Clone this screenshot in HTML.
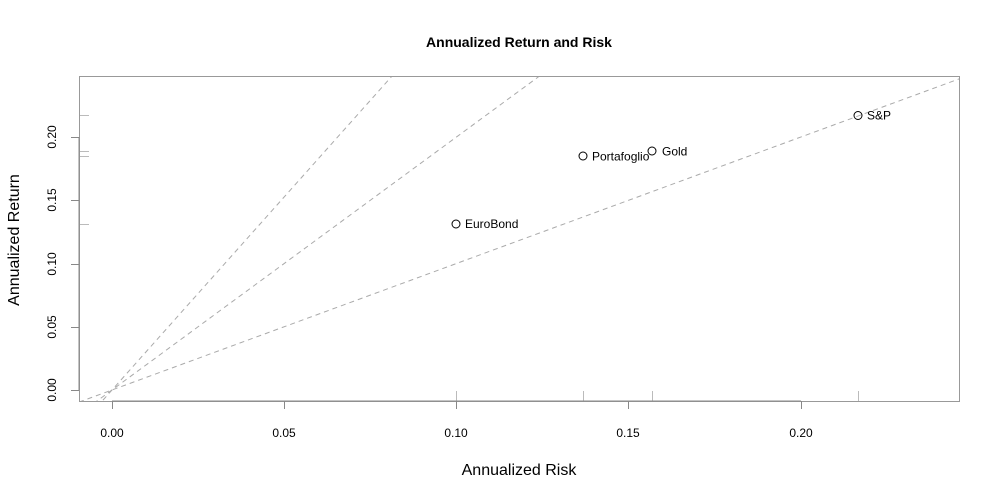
<!DOCTYPE html>
<html><head><style>body{margin:0;background:#fff}svg{display:block}text{font-family:"Liberation Sans",Arial,sans-serif}</style></head><body>
<svg width="1000" height="500" xmlns="http://www.w3.org/2000/svg">
<defs><clipPath id="c"><rect x="79" y="76" width="880" height="325"/></clipPath></defs>
<text x="519" y="47" font-size="14" font-weight="bold" text-anchor="middle">Annualized Return and Risk</text>
<g clip-path="url(#c)" stroke="#aaa" stroke-width="1" stroke-dasharray="5,4" fill="none">
<line x1="79" y1="402.1" x2="1000" y2="63.9"/>
<line x1="79" y1="414.2" x2="600" y2="31.6"/>
<line x1="79" y1="427" x2="500" y2="-45"/>
</g>
<g stroke="#bbb" stroke-width="1">
<line x1="79" y1="115.5" x2="89" y2="115.5"/><line x1="79" y1="151.5" x2="89" y2="151.5"/><line x1="79" y1="156.5" x2="89" y2="156.5"/><line x1="79" y1="224.5" x2="89" y2="224.5"/>
<line x1="456.5" y1="391" x2="456.5" y2="401"/><line x1="583.5" y1="391" x2="583.5" y2="401"/><line x1="652.5" y1="391" x2="652.5" y2="401"/><line x1="858.5" y1="391" x2="858.5" y2="401"/>
</g>
<rect x="79.5" y="76.5" width="880" height="325" fill="none" stroke="#999"/>
<g stroke="#888">
<line x1="112" y1="401" x2="801" y2="401"/>
<line x1="112.5" y1="401" x2="112.5" y2="409"/><line x1="284.5" y1="401" x2="284.5" y2="409"/><line x1="456.5" y1="401" x2="456.5" y2="409"/><line x1="628.5" y1="401" x2="628.5" y2="409"/><line x1="801.5" y1="401" x2="801.5" y2="409"/>
<line x1="79" y1="137" x2="79" y2="390"/>
<line x1="71" y1="390.5" x2="79" y2="390.5"/><line x1="71" y1="327.5" x2="79" y2="327.5"/><line x1="71" y1="264.5" x2="79" y2="264.5"/><line x1="71" y1="200.5" x2="79" y2="200.5"/><line x1="71" y1="137.5" x2="79" y2="137.5"/>
</g>
<g font-size="12" text-anchor="middle">
<text x="112" y="437">0.00</text><text x="284" y="437">0.05</text><text x="456" y="437">0.10</text><text x="628" y="437">0.15</text><text x="801" y="437">0.20</text>
<text transform="translate(56,390) rotate(-90)">0.00</text>
<text transform="translate(56,327) rotate(-90)">0.05</text>
<text transform="translate(56,264) rotate(-90)">0.10</text>
<text transform="translate(56,200) rotate(-90)">0.15</text>
<text transform="translate(56,137) rotate(-90)">0.20</text>
</g>
<text x="519" y="475" font-size="16" text-anchor="middle">Annualized Risk</text>
<text transform="translate(19,240) rotate(-90)" font-size="16" text-anchor="middle">Annualized Return</text>
<g fill="none" stroke="#000" stroke-width="1">
<circle cx="858" cy="115.5" r="4"/><circle cx="652" cy="151" r="4"/><circle cx="583" cy="156" r="4"/><circle cx="456" cy="224" r="4"/>
</g>
<g font-size="12">
<text x="867" y="119.5">S&amp;P</text><text x="662" y="155.5">Gold</text><text x="592" y="160.5">Portafoglio</text><text x="465" y="228">EuroBond</text>
</g>
</svg>
</body></html>
